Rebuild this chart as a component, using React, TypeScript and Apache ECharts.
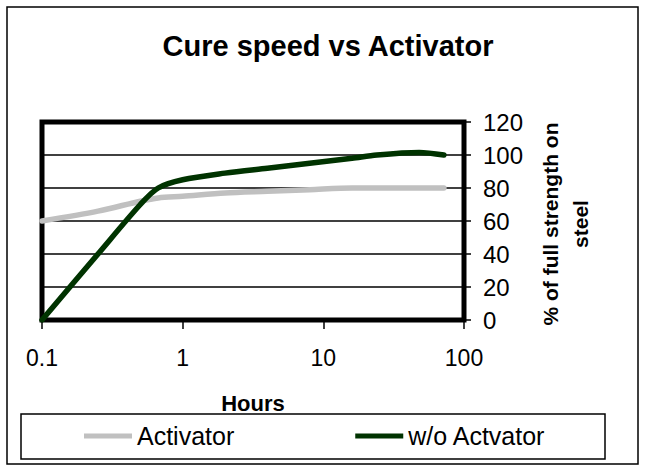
import React, { useEffect, useRef } from "react";
import * as echarts from "echarts";

const hours = [0.1, 0.25, 0.5, 0.67, 1, 2, 4, 8, 16, 24, 48, 72];
const activator = [60, 66, 72, 74, 75, 77, 78, 79, 80, 80, 80, 80];
const withoutActivator = [0, 40, 70, 80, 85, 89, 92, 95, 98, 100, 101.5, 100];
const xTicks = [0.1, 1, 10, 100];
const yTicks = [0, 20, 40, 60, 80, 100, 120];
const seriesNames = ["Activator", "w/o Actvator"];
const titleText = "Cure speed vs Activator";
const xTitle = "Hours";
const yTitle = "% of full strength on\nsteel";

const FONT = "'Liberation Sans', Arial, sans-serif";

export default function App() {
  const ref = useRef<HTMLDivElement>(null);
  useEffect(() => {
    if (!ref.current) return;
    const chart = echarts.init(ref.current, null, { renderer: "svg" });
    const pairs = (ys: number[]) => hours.map((h, i) => [h, ys[i]]);
    chart.setOption({
      animation: false,
      backgroundColor: "#ffffff",
      textStyle: { fontFamily: FONT },
      grid: {
        left: 42,
        top: 122,
        width: 422,
        height: 198,
        show: true,
        borderColor: "#000",
        borderWidth: 5,
        backgroundColor: "transparent",
      },
      legend: {
        left: 84,
        top: 422,
        padding: 0,
        itemWidth: 48,
        itemHeight: 5,
        itemGap: 121,
        icon: "rect",
        data: seriesNames,
        textStyle: { fontSize: 25, color: "#000", fontFamily: FONT, lineHeight: 28 },
      },
      xAxis: {
        type: "log",
        logBase: 10,
        min: xTicks[0],
        max: xTicks[xTicks.length - 1],
        name: xTitle,
        nameLocation: "middle",
        nameGap: 72,
        nameTextStyle: { fontSize: 22, fontWeight: "bold", color: "#000", fontFamily: FONT },
        axisLine: { show: false },
        axisTick: { show: true, length: 9, lineStyle: { color: "#000", width: 1.5 } },
        axisLabel: {
          fontSize: 23,
          color: "#000",
          margin: 26,
          fontFamily: FONT,
          formatter: (v: number) => String(v),
        },
        splitLine: { show: false },
        minorTick: { show: false },
      },
      yAxis: {
        type: "value",
        position: "right",
        min: yTicks[0],
        max: yTicks[yTicks.length - 1],
        interval: 20,
        axisLine: { show: false },
        axisTick: { show: true, length: 7, lineStyle: { color: "#000", width: 1.5 } },
        axisLabel: { fontSize: 24, color: "#000", margin: 19, fontFamily: FONT },
        splitLine: { show: true, lineStyle: { color: "#000", width: 1.5 } },
      },
      graphic: [
        {
          type: "rect",
          shape: { x: 7, y: 7, width: 631, height: 457 },
          style: { fill: "none", stroke: "#000", lineWidth: 1.5 },
          silent: true,
        },
        {
          type: "rect",
          shape: { x: 21, y: 414, width: 584, height: 45 },
          style: { fill: "none", stroke: "#000", lineWidth: 1.5 },
          silent: true,
        },
        {
          type: "text",
          x: 328,
          y: 46,
          style: {
            text: titleText,
            font: `bold 29px ${FONT}`,
            fill: "#000",
            align: "center",
            verticalAlign: "middle",
          },
        },
        {
          type: "text",
          x: 565,
          y: 224,
          rotation: Math.PI / 2,
          style: {
            text: yTitle,
            font: `bold 21px ${FONT}`,
            fill: "#000",
            align: "center",
            verticalAlign: "middle",
            lineHeight: 30,
          },
        },
      ],
      series: [
        {
          name: seriesNames[0],
          type: "line",
          data: pairs(activator),
          smooth: 0.3,
          symbol: "none",
          showSymbol: false,
          color: "#C0C0C0",
          lineStyle: { color: "#C0C0C0", width: 5.5, cap: "round" },
        },
        {
          name: seriesNames[1],
          type: "line",
          data: pairs(withoutActivator),
          smooth: 0.3,
          symbol: "none",
          showSymbol: false,
          color: "#003300",
          lineStyle: { color: "#003300", width: 5.5, cap: "round" },
        },
      ],
    });
    return () => chart.dispose();
  }, []);
  return (
    <div
      ref={ref}
      style={{ position: "fixed", left: 0, top: 0, width: 649, height: 466, background: "#fff" }}
    />
  );
}
